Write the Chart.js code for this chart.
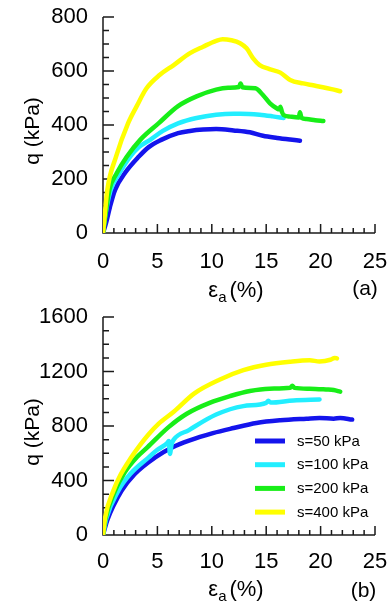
<!DOCTYPE html>
<html><head><meta charset="utf-8">
<script src="https://cdn.jsdelivr.net/npm/chart.js@4"></script>
<style>
html,body{margin:0;padding:0;background:#fff;}
body{width:388px;height:609px;position:relative;overflow:hidden;}
#ca{position:absolute;left:0;top:0;}
#cb{position:absolute;left:0;top:300px;}
</style></head><body>
<canvas id="ca" width="388" height="310"></canvas>
<canvas id="cb" width="388" height="309"></canvas>
<script>
// ---- Data ----
const seriesLabels = ['s=50 kPa', 's=100 kPa', 's=200 kPa', 's=400 kPa'];
const seriesColors = ['#1414ec', '#22eeff', '#18ee18', '#ffff00'];

// Panel (a)
const strainA50  = [0,0.3,0.64,1.1,2.0,3.3,4.2,5.3,6.9,8.0,9.2,10.4,12.0,13.5,14.7,16.0,17.2,18.1];
const qA50       = [0,40,97,159,221,283,318,344,370,378,383,385,380,373,360,352,346,342];
const strainA100 = [0,0.15,0.7,1.5,2.5,3.3,4.3,5.5,6.9,8.6,10.4,12.0,12.6,14.4,15.6,16.6];
const qA100      = [0,50,159,221,283,318,344,378,406,426,438,442,442,438,432,426];
const strainA200 = [0,0.12,0.58,1.26,2.2,3.4,5.1,6.9,8.6,10.4,11.5,12.5,12.65,12.8,14.0,14.7,15.35,15.96,16.2,16.3,16.45,16.6,17.2,18.0,18.1,18.25,18.7,19.5,20.25];
const qA200      = [0,36,159,221,283,344,406,470,506,531,538,541,554,540,536,511,480,462,458,468,448,437,431,428,447,426,422,418,415];
const strainA400 = [0,0.1,0.4,1.2,2.3,3.1,4.0,5.2,6.5,8.0,9.2,10.4,11.0,11.8,12.6,13.2,13.8,14.4,15.3,16.3,17.2,18.4,19.3,20.2,21.0,21.8];
const qA400      = [0,40,160,283,406,470,536,585,622,666,690,712,718,714,703,684,647,622,607,594,567,554,547,540,533,525];

// Panel (b)
const strainB50  = [0,0.4,1.7,2.9,4.8,6.4,7.9,10.1,12.0,14.1,16.3,18.7,19.9,21.2,21.8,22.9];
const qB50       = [0,110,324,447,570,644,693,748,785,822,842,854,859,854,859,847];
const strainB100 = [0,0.3,1.4,2.5,4.2,5.0,5.9,6.05,6.15,6.3,6.5,7.9,10.4,12.9,15.0,15.2,15.4,17.5,19.9];
const qB100      = [0,120,324,447,570,625,675,690,595,665,700,770,884,946,970,985,972,988,995];
const strainB200 = [0,0.2,1.1,2.0,3.1,4.1,6.0,7.7,9.8,11.7,13.5,15.3,17.2,17.4,17.6,19.0,20.5,21.2,21.8];
const qB200      = [0,110,324,460,570,645,790,890,970,1020,1057,1074,1081,1095,1080,1074,1068,1064,1052];
const strainB400 = [0,0.2,0.95,1.6,2.6,3.4,4.2,5.1,6.5,8.4,10.7,12.9,15.0,17.2,19.0,19.9,20.9,21.3,21.5];
const qB400      = [0,130,324,440,570,660,740,816,905,1040,1140,1210,1250,1272,1282,1274,1286,1300,1296];

// Axis settings / tick labels
const xMax = 25, xLabelStep = 5, xMinorStep = 1;
const yMaxA = 800, yLabelStepA = 200, yMinorStepA = 50;
const yMaxB = 1600, yLabelStepB = 400, yMinorStepB = 100;
const yTitle = 'q (kPa)';
const xTitleMain = 'ε', xTitleSub = 'a', xTitleRest = '(%)';
const panelTags = ['(a)', '(b)'];

const FONT = '"Liberation Sans", Arial, Helvetica, sans-serif';

function buildDatasets(xsList, ysList) {
  return xsList.map((xs, i) => ({
    label: seriesLabels[i],
    data: xs.map((x, j) => ({x: x, y: ysList[i][j]})),
    showLine: true,
    borderColor: seriesColors[i],
    backgroundColor: seriesColors[i],
    borderWidth: 4.5,
    pointRadius: 0,
    pointHoverRadius: 0,
    cubicInterpolationMode: 'monotone',
    borderJoinStyle: 'round',
    borderCapStyle: 'round',
    order: xsList.length - i
  }));
}

function panelPlugin(o) {
  return {
    id: 'panel' + o.tag,
    beforeDatasetsDraw(chart) {
      const {ctx, chartArea: a, scales: {x, y}} = chart;
      ctx.save();
      ctx.strokeStyle = '#1a1a1a';
      ctx.lineWidth = 1.5;
      ctx.beginPath();
      ctx.moveTo(a.left, a.top);
      ctx.lineTo(a.left, a.bottom);
      ctx.lineTo(a.right, a.bottom);
      for (let v = 0; v <= xMax; v += xMinorStep) {
        const px = x.getPixelForValue(v);
        const len = v % xLabelStep === 0 ? 9 : 5;
        ctx.moveTo(px, a.bottom);
        ctx.lineTo(px, a.bottom - len);
      }
      for (let v = 0; v <= o.yMax; v += o.yMinor) {
        const py = y.getPixelForValue(v);
        const len = v % o.yMajor === 0 ? 11 : 6;
        ctx.moveTo(a.left, py);
        ctx.lineTo(a.left + len, py);
      }
      ctx.stroke();
      ctx.restore();
    },
    afterDraw(chart) {
      const {ctx, chartArea: a} = chart;
      ctx.save();
      ctx.fillStyle = '#000';
      // y title
      ctx.save();
      ctx.translate(33, (a.top + a.bottom) / 2 + 6);
      ctx.rotate(-Math.PI / 2);
      ctx.font = '21px ' + FONT;
      ctx.textAlign = 'center';
      ctx.textBaseline = 'middle';
      ctx.fillText(yTitle, 0, 0);
      ctx.restore();
      // x title with subscript
      ctx.textBaseline = 'alphabetic';
      ctx.textAlign = 'left';
      const big = '22px ' + FONT, small = '15px ' + FONT;
      ctx.font = big; const w1 = ctx.measureText(xTitleMain).width;
      ctx.font = small; const w2 = ctx.measureText(xTitleSub).width;
      ctx.font = big; const w3 = ctx.measureText(xTitleRest).width;
      const gap = 3;
      const total = w1 + w2 + gap + w3;
      let sx = (a.left + a.right) / 2 - 3 - total / 2;
      const bl = a.bottom + o.titleOff;
      ctx.font = big; ctx.fillText(xTitleMain, sx, bl); sx += w1;
      ctx.font = small; ctx.fillText(xTitleSub, sx, bl + 4.5); sx += w2 + gap;
      ctx.font = big; ctx.fillText(xTitleRest, sx, bl);
      // panel tag
      ctx.font = '21px ' + FONT;
      ctx.textAlign = 'center';
      ctx.fillText(o.tag, o.tagX, a.bottom + o.tagOff);
      // legend
      if (o.legend) {
        ctx.textAlign = 'left';
        ctx.textBaseline = 'middle';
        ctx.font = '15px ' + FONT;
        chart.data.datasets.forEach((ds, i) => {
          const yy = o.legendY + i * 23.7;
          ctx.strokeStyle = ds.borderColor;
          ctx.lineWidth = 5;
          ctx.beginPath();
          ctx.moveTo(255, yy); ctx.lineTo(285, yy);
          ctx.stroke();
          ctx.fillStyle = '#000';
          ctx.fillText(ds.label, 297, yy + 0.5);
        });
      }
      ctx.restore();
    }
  };
}

function makeChart(canvas, datasets, o) {
  return new Chart(canvas, {
    type: 'scatter',
    data: {datasets: datasets},
    options: {
      responsive: false,
      animation: false,
      devicePixelRatio: 1,
      events: [],
      layout: {padding: {left: 0, right: 13, top: 17, bottom: o.padBottom}},
      plugins: {legend: {display: false}, tooltip: {enabled: false}},
      scales: {
        x: {
          type: 'linear', min: 0, max: xMax,
          afterFit: s => { s.height = o.xAxisH; s.paddingLeft = 0; s.paddingRight = 0; },
          grid: {display: false, drawTicks: false},
          border: {display: false},
          ticks: {stepSize: xLabelStep, padding: o.xPad, color: '#000', autoSkip: false, maxRotation: 0,
                  font: {family: FONT, size: 22}, callback: v => String(v)}
        },
        y: {
          type: 'linear', min: 0, max: o.yMax,
          afterFit: s => { s.width = 103; s.paddingTop = 0; s.paddingBottom = 0; },
          grid: {display: false, drawTicks: false},
          border: {display: false},
          ticks: {stepSize: o.yMajor, padding: 15, color: '#000', font: {family: FONT, size: 22},
                  callback: v => String(v)}
        }
      }
    },
    plugins: [panelPlugin(o)]
  });
}

makeChart(document.getElementById('ca'),
  buildDatasets([strainA50, strainA100, strainA200, strainA400], [qA50, qA100, qA200, qA400]),
  {tag: panelTags[0], yMax: yMaxA, yMajor: yLabelStepA, yMinor: yMinorStepA, padBottom: 10, xAxisH: 67,
   xPad: 15.5, titleOff: 64, tagOff: 62, tagX: 365, legend: false});

makeChart(document.getElementById('cb'),
  buildDatasets([strainB50, strainB100, strainB200, strainB400], [qB50, qB100, qB200, qB400]),
  {tag: panelTags[1], yMax: yMaxB, yMajor: yLabelStepB, yMinor: yMinorStepB, padBottom: 0, xAxisH: 74,
   xPad: 14, titleOff: 61, tagOff: 62, tagX: 363.5, legend: true, legendY: 141});
</script>
</body></html>
